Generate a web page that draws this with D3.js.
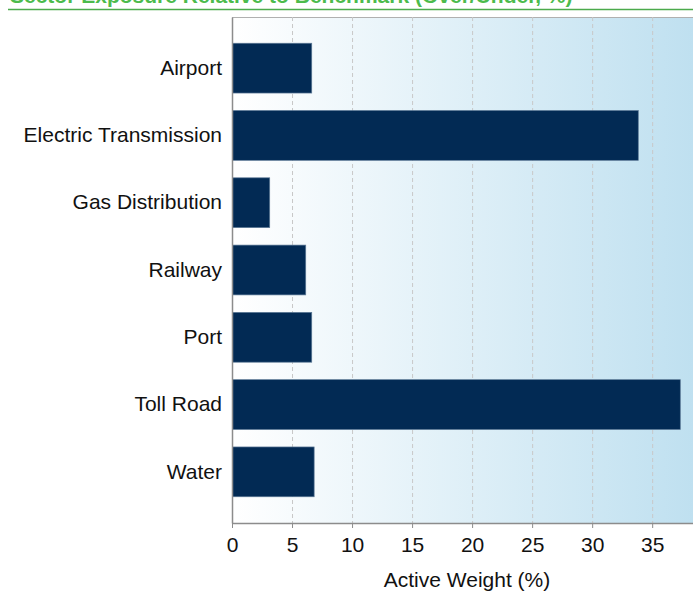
<!DOCTYPE html>
<html>
<head>
<meta charset="utf-8">
<script src="https://cdn.jsdelivr.net/npm/d3@7"></script>
<style>
  html, body { margin: 0; padding: 0; background: #fff; overflow: hidden; }
  svg { display: block; font-family: "Liberation Sans", Arial, sans-serif; }
  .gridline { stroke: #c8c8c8; stroke-dasharray: 4,3; }
</style>
</head>
<body>
<div id="chart"></div>
<script>
// sector active weights (%)
const sectors = ["Airport", "Electric Transmission", "Gas Distribution", "Railway", "Port", "Toll Road", "Water"];
const weights = [6.6, 33.8, 3.1, 6.1, 6.6, 37.3, 6.8];
const xTicks = [0, 5, 10, 15, 20, 25, 30, 35];
const titleText = "Sector Exposure Relative to Benchmark (Over/Under, %)";
const xLabel = "Active Weight (%)";

const rows = sectors.map((s, i) => ({ sector: s, value: weights[i] }));

const WIDTH = 693, HEIGHT = 592;
const M = { left: 232, right: 0, top: 17, bottom: 69 };
const W = WIDTH - M.left - M.right;
const H = HEIGHT - M.top - M.bottom;
const FONT = "21px";

const svg = d3.select("#chart").append("svg")
  .attr("width", WIDTH).attr("height", HEIGHT);

// title sits mostly above the top edge, as in the source picture
svg.append("text")
  .attr("x", 10).attr("y", 3)
  .attr("fill", "#4cbb4c")
  .style("font-size", FONT).style("font-weight", "bold")
  .text(titleText);
svg.append("line")
  .attr("x1", 8).attr("x2", WIDTH).attr("y1", 9.5).attr("y2", 9.5)
  .attr("stroke", "#4caa4c").attr("stroke-width", 1.5);

const x = d3.scaleLinear().domain([0, 38.4]).range([0, W]);
const y = d3.scaleBand().domain(sectors).range([0, H])
  .paddingInner(0.26).paddingOuter(0.39);

// background gradient
const defs = svg.append("defs");
const grad = defs.append("linearGradient").attr("id", "bg").attr("x1", "0%").attr("x2", "100%");
grad.append("stop").attr("offset", "0%").attr("stop-color", "#ffffff");
grad.append("stop").attr("offset", "100%").attr("stop-color", "#bfe0f0");

const g = svg.append("g").attr("transform", `translate(${M.left},${M.top})`);

g.append("rect").attr("width", W).attr("height", H).attr("fill", "url(#bg)");
g.append("line").attr("x1", 0).attr("x2", W).attr("y1", 0.5).attr("y2", 0.5)
  .attr("stroke", "#b0b0b0");

// vertical dashed grid
g.append("g").selectAll("line.gridline").data(xTicks.filter(d => d > 0)).join("line")
  .attr("class", "gridline")
  .attr("x1", d => x(d) + 0.5).attr("x2", d => x(d) + 0.5)
  .attr("y1", 0).attr("y2", H);

// bars
g.selectAll("rect.bar").data(rows).join("rect")
  .attr("class", "bar")
  .attr("x", x(0) + 0.5)
  .attr("y", d => y(d.sector))
  .attr("width", d => x(d.value) - x(0))
  .attr("height", y.bandwidth())
  .attr("fill", "#022a54")
  .attr("stroke", "#5b7895").attr("stroke-width", 0.7);

// y axis (labels only + line)
const gY = g.append("g").call(d3.axisLeft(y).tickSize(0).tickPadding(10));
gY.select(".domain").attr("stroke", "#8c8c8c").attr("stroke-width", 1.5);
gY.selectAll("text").attr("fill", "#111").style("font-size", FONT)
  .style("font-family", "'Liberation Sans', Arial, sans-serif");

// x axis
const gX = g.append("g").attr("transform", `translate(0,${H})`)
  .call(d3.axisBottom(x).tickValues(xTicks).tickSize(5).tickPadding(9).tickSizeOuter(0));
gX.select(".domain").attr("stroke", "#8c8c8c").attr("stroke-width", 1.5);
gX.selectAll(".tick line").attr("stroke", "#8c8c8c");
gX.selectAll("text").attr("fill", "#111").style("font-size", FONT)
  .style("font-family", "'Liberation Sans', Arial, sans-serif");

svg.append("text")
  .attr("x", 467).attr("y", 587)
  .attr("text-anchor", "middle")
  .attr("fill", "#111").style("font-size", FONT)
  .text(xLabel);
</script>
</body>
</html>
